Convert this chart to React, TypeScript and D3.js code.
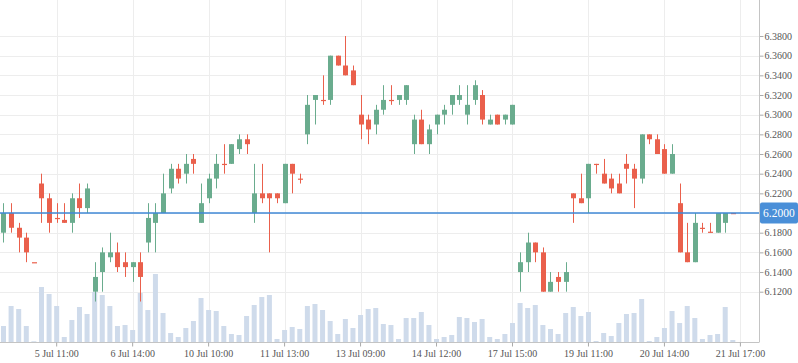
import { useEffect, useRef } from 'react';
import * as d3 from 'd3';

// OHLC per candle (category index = position in array)
const open = [
  6.18, 6.20, 6.185, 6.175, 6.15, 6.23, 6.215, 6.195, 6.193, 6.19,
  6.215, 6.205, 6.12, 6.14, 6.155, 6.16, 6.15, 6.145, 6.15, 6.17,
  6.19, 6.20, 6.225, 6.245, 6.24, 6.255, 6.19, 6.215, 6.235, 6.25,
  6.25, 6.265, 6.275, 6.20, 6.22, 6.22, 6.22, 6.21, 6.25, 6.235,
  6.28, 6.315, 6.315, 6.315, 6.36, 6.35, 6.345, 6.30, 6.295, 6.29,
  6.305, 6.315, 6.315, 6.315, 6.27, 6.295, 6.27, 6.29, 6.30, 6.31,
  6.315, 6.30, 6.315, 6.32, 6.29, 6.30, 6.295, 6.29, 6.14, 6.15,
  6.17, 6.16, 6.12, 6.135, 6.13, 6.22, 6.215, 6.215, 6.25, 6.24,
  6.235, 6.23, 6.25, 6.245, 6.235, 6.28, 6.275, 6.265, 6.24, 6.21,
  6.16, 6.15, 6.185, 6.181, 6.18, 6.19, 6.2,
];
const high = [
  6.21, 6.21, 6.19, 6.18, 6.15, 6.24, 6.22, 6.21, 6.21, 6.22,
  6.23, 6.23, 6.15, 6.165, 6.18, 6.17, 6.16, 6.15, 6.16, 6.21,
  6.21, 6.24, 6.25, 6.25, 6.26, 6.26, 6.23, 6.24, 6.26, 6.27,
  6.27, 6.28, 6.28, 6.25, 6.25, 6.22, 6.22, 6.25, 6.25, 6.24,
  6.32, 6.32, 6.34, 6.36, 6.36, 6.38, 6.35, 6.32, 6.30, 6.31,
  6.33, 6.33, 6.32, 6.33, 6.30, 6.305, 6.29, 6.30, 6.31, 6.32,
  6.33, 6.33, 6.335, 6.325, 6.30, 6.30, 6.30, 6.31, 6.16, 6.18,
  6.17, 6.165, 6.14, 6.14, 6.15, 6.22, 6.24, 6.25, 6.25, 6.255,
  6.24, 6.24, 6.26, 6.25, 6.28, 6.28, 6.28, 6.27, 6.27, 6.23,
  6.19, 6.20, 6.19, 6.19, 6.20, 6.20, 6.2,
];
const low = [
  6.17, 6.18, 6.16, 6.15, 6.15, 6.19, 6.18, 6.19, 6.19, 6.18,
  6.195, 6.20, 6.11, 6.12, 6.15, 6.14, 6.135, 6.13, 6.11, 6.16,
  6.16, 6.20, 6.22, 6.23, 6.23, 6.24, 6.19, 6.21, 6.225, 6.24,
  6.25, 6.26, 6.26, 6.19, 6.21, 6.16, 6.21, 6.21, 6.22, 6.23,
  6.27, 6.29, 6.31, 6.31, 6.35, 6.34, 6.33, 6.275, 6.27, 6.28,
  6.30, 6.31, 6.31, 6.31, 6.26, 6.27, 6.26, 6.28, 6.29, 6.30,
  6.31, 6.29, 6.31, 6.29, 6.29, 6.29, 6.29, 6.29, 6.12, 6.14,
  6.15, 6.12, 6.12, 6.12, 6.12, 6.19, 6.21, 6.20, 6.24, 6.23,
  6.22, 6.22, 6.23, 6.205, 6.23, 6.27, 6.26, 6.24, 6.24, 6.16,
  6.15, 6.15, 6.18, 6.18, 6.18, 6.18, 6.199,
];
const close = [
  6.20, 6.185, 6.175, 6.16, 6.15, 6.215, 6.19, 6.195, 6.19, 6.215,
  6.205, 6.225, 6.135, 6.16, 6.16, 6.145, 6.145, 6.15, 6.135, 6.195,
  6.20, 6.22, 6.245, 6.235, 6.25, 6.25, 6.21, 6.235, 6.25, 6.25,
  6.27, 6.275, 6.27, 6.22, 6.215, 6.215, 6.215, 6.25, 6.24, 6.235,
  6.31, 6.32, 6.315, 6.36, 6.35, 6.34, 6.33, 6.29, 6.285, 6.305,
  6.315, 6.315, 6.32, 6.33, 6.295, 6.27, 6.285, 6.30, 6.305, 6.32,
  6.32, 6.31, 6.33, 6.295, 6.295, 6.29, 6.30, 6.31, 6.15, 6.17,
  6.16, 6.12, 6.13, 6.13, 6.14, 6.215, 6.21, 6.25, 6.249, 6.23,
  6.225, 6.22, 6.245, 6.235, 6.28, 6.275, 6.26, 6.24, 6.26, 6.16,
  6.15, 6.19, 6.185, 6.18, 6.20, 6.20, 6.199,
];
const volume = [
  16, 36, 33, 16, 0.7, 55, 48, 36, 5, 22,
  35, 28, 50, 47, 36, 16, 17, 12, 49, 32,
  68, 29, 9, 5, 14, 21, 44, 32, 31, 16,
  8, 7, 26, 37, 45, 47, 3, 12, 15, 13,
  36, 38, 32, 21, 8, 23, 14, 27, 33, 34,
  18, 17, 3, 24, 24, 30, 17, 3, 5, 7,
  25, 24, 20, 23, 5, 3, 8, 19, 39, 34,
  37, 17, 13, 8, 29, 35, 26, 30, 1, 9,
  6, 19, 28, 29, 43, 1, 5, 14, 31, 19,
  36, 24, 3, 7, 8, 35, 2,
];

// category axis labels (index into the slot list)
const tickIndex = [7, 17, 27, 37, 47, 57, 67, 77, 87, 97];
const tickLabels = [
  '5 Jul 11:00', '6 Jul 14:00', '10 Jul 10:00', '11 Jul 13:00', '13 Jul 09:00',
  '14 Jul 12:00', '17 Jul 15:00', '19 Jul 11:00', '20 Jul 14:00', '21 Jul 17:00',
];
const priceTicks = [6.12, 6.14, 6.16, 6.18, 6.20, 6.22, 6.24, 6.26, 6.28, 6.30, 6.32, 6.34, 6.36, 6.38];
const lastPrice = 6.2;
const slotCount = 100;

const UP = '#6aac8e';
const DOWN = '#ea604c';

const CandleChart = () => {
  const ref = useRef<HTMLDivElement>(null);
  useEffect(() => {
    const width = 798;
    const height = 363;
    const plotRight = 759;
    const plotBottom = 342;
    const fmt = d3.format('.4f');

    const x = d3.scaleBand<number>()
      .domain(d3.range(slotCount))
      .range([-0.3, plotRight + 0.4]);
    const cx = (i: number) => x(i)! + x.bandwidth() / 2;

    const y = d3.scaleLinear()
      .domain([6.12, 6.38])
      .range([291.7, 36]);

    const yv = d3.scaleLinear()
      .domain([0, 68])
      .range([plotBottom, 274]);

    const svg = d3.create('svg')
      .attr('width', width)
      .attr('height', height)
      .attr('viewBox', [0, 0, width, height])
      .attr('style', 'position:absolute;left:0;top:0;font-family:"Liberation Serif",serif;');

    // grid
    svg.append('g')
      .attr('stroke', '#ededed')
      .attr('stroke-width', 1)
      .selectAll()
      .data(priceTicks)
      .join('line')
      .attr('x1', 0)
      .attr('x2', plotRight)
      .attr('y1', (d) => Math.round(y(d)) + 0.5)
      .attr('y2', (d) => Math.round(y(d)) + 0.5);

    svg.append('g')
      .attr('stroke', '#ededed')
      .attr('stroke-width', 1)
      .selectAll()
      .data(tickIndex)
      .join('line')
      .attr('x1', (d) => Math.round(cx(d)) + 0.5)
      .attr('x2', (d) => Math.round(cx(d)) + 0.5)
      .attr('y1', 0)
      .attr('y2', plotBottom);

    const idx = d3.range(open.length);

    // volume bars
    svg.append('g')
      .attr('fill', '#cfdbeb')
      .selectAll()
      .data(idx)
      .join('rect')
      .attr('x', (i) => cx(i) - 2.5)
      .attr('width', 5)
      .attr('y', (i) => yv(volume[i]))
      .attr('height', (i) => plotBottom - yv(volume[i]));

    // candles
    const candle = svg.append('g')
      .selectAll()
      .data(idx)
      .join('g')
      .attr('fill', (i) => (close[i] > open[i] ? UP : DOWN))
      .attr('stroke', (i) => (close[i] > open[i] ? UP : DOWN));

    candle.append('line')
      .attr('x1', (i) => Math.round(cx(i)) + 0.5)
      .attr('x2', (i) => Math.round(cx(i)) + 0.5)
      .attr('y1', (i) => y(high[i]))
      .attr('y2', (i) => y(low[i]))
      .attr('stroke-width', 1);

    candle.append('rect')
      .attr('stroke', 'none')
      .attr('x', (i) => Math.round(cx(i)) - 2)
      .attr('width', 5)
      .attr('y', (i) => y(Math.max(open[i], close[i])))
      .attr('height', (i) => Math.max(1.2, Math.abs(y(open[i]) - y(close[i]))));

    // last price line
    svg.append('line')
      .attr('x1', 0)
      .attr('x2', plotRight)
      .attr('y1', y(lastPrice))
      .attr('y2', y(lastPrice))
      .attr('stroke', '#3f88d6')
      .attr('stroke-width', 1.3);

    // y axis (right); the last-price badge stands in for its own tick label
    svg.append('g')
      .attr('transform', `translate(${plotRight + 0.5},0)`)
      .call(d3.axisRight(y).tickValues(priceTicks).tickSize(4).tickPadding(1)
        .tickFormat((d) => (Math.abs(+d - lastPrice) < 1e-9 ? '' : fmt(+d))))
      .call((g) => g.select('.domain').remove())
      .call((g) => g.selectAll('line').attr('stroke', '#aaa'))
      .call((g) => g.selectAll('text').attr('fill', '#555').attr('font-size', 10).attr('font-family', '"Liberation Serif",serif'));

    svg.append('line')
      .attr('x1', plotRight + 0.5)
      .attr('x2', plotRight + 0.5)
      .attr('y1', 0)
      .attr('y2', plotBottom)
      .attr('stroke', '#c4c4c4');

    // x axis
    const xLabel = new Map(tickIndex.map((d, k) => [d, tickLabels[k]]));
    svg.append('g')
      .attr('transform', `translate(0,${plotBottom + 0.5})`)
      .call(d3.axisBottom(x).tickValues(tickIndex).tickSize(4).tickPadding(3).tickFormat((d) => xLabel.get(d as number) ?? ''))
      .call((g) => g.select('.domain').attr('stroke', '#c4c4c4').attr('d', `M0,0H${plotRight + 0.5}`))
      .call((g) => g.selectAll('line').attr('stroke', '#aaa'))
      .call((g) => g.selectAll('text').attr('fill', '#555').attr('font-size', 10).attr('font-family', '"Liberation Serif",serif'));

    // last price badge
    const badge = svg.append('g')
      .attr('transform', `translate(${plotRight},${y(lastPrice)})`);
    badge.append('rect')
      .attr('x', 1)
      .attr('y', -10.5)
      .attr('width', 38)
      .attr('height', 21)
      .attr('rx', 2)
      .attr('fill', '#4a8fd8');
    badge.append('text')
      .attr('x', 4)
      .attr('y', 0)
      .attr('dy', '0.35em')
      .attr('fill', '#fff')
      .attr('font-size', 11.5)
      .text(fmt(lastPrice));

    const node = svg.node()!;
    ref.current?.append(node);
    return () => {
      node.remove();
    };
  });
  return <div ref={ref} />;
};

export default function App() {
  return <CandleChart />;
}
